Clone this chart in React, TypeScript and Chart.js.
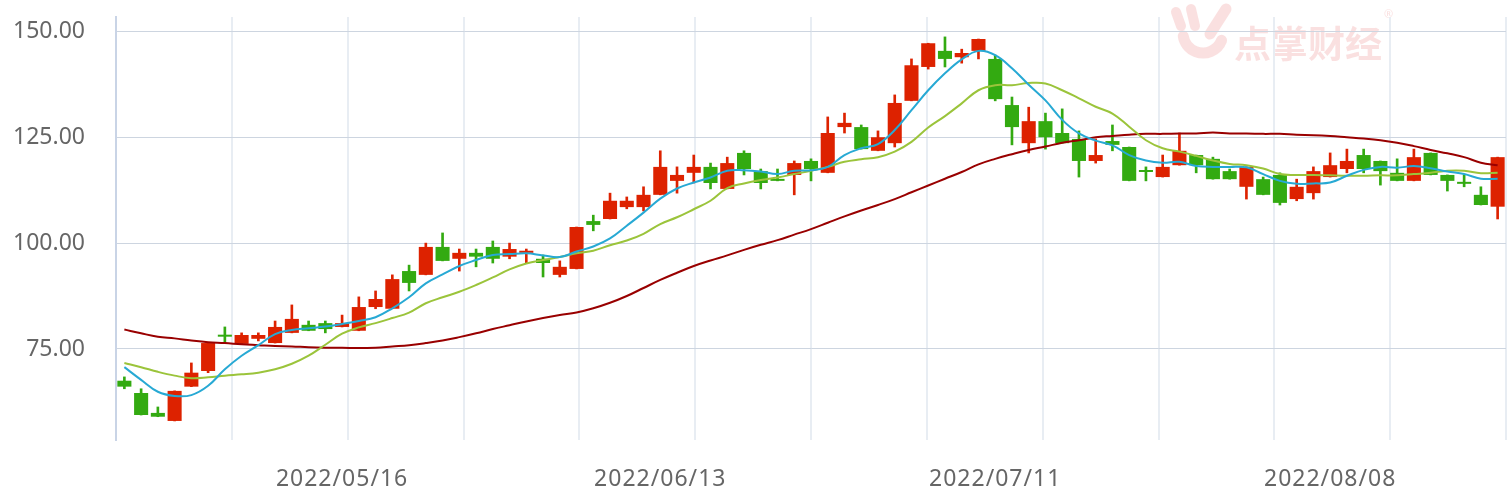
import React, { useEffect, useRef } from 'react';
import { Chart, registerables } from 'chart.js';

Chart.register(...registerables);

const dates = [
  '2022/04/22', '2022/04/25', '2022/04/26', '2022/04/27', '2022/04/28', '2022/04/29', '2022/05/05', '2022/05/06',
  '2022/05/09', '2022/05/10', '2022/05/11', '2022/05/12', '2022/05/13', '2022/05/16', '2022/05/17', '2022/05/18',
  '2022/05/19', '2022/05/20', '2022/05/23', '2022/05/24', '2022/05/25', '2022/05/26', '2022/05/27', '2022/05/30',
  '2022/05/31', '2022/06/01', '2022/06/02', '2022/06/06', '2022/06/07', '2022/06/08', '2022/06/09', '2022/06/10',
  '2022/06/13', '2022/06/14', '2022/06/15', '2022/06/16', '2022/06/17', '2022/06/20', '2022/06/21', '2022/06/22',
  '2022/06/23', '2022/06/24', '2022/06/27', '2022/06/28', '2022/06/29', '2022/06/30', '2022/07/01', '2022/07/04',
  '2022/07/05', '2022/07/06', '2022/07/07', '2022/07/08', '2022/07/11', '2022/07/12', '2022/07/13', '2022/07/14',
  '2022/07/15', '2022/07/18', '2022/07/19', '2022/07/20', '2022/07/21', '2022/07/22', '2022/07/25', '2022/07/26',
  '2022/07/27', '2022/07/28', '2022/07/29', '2022/08/01', '2022/08/02', '2022/08/03', '2022/08/04', '2022/08/05',
  '2022/08/08', '2022/08/09', '2022/08/10', '2022/08/11', '2022/08/12', '2022/08/15', '2022/08/16', '2022/08/17',
  '2022/08/18', '2022/08/19', '2022/08/22',
];

const shownDates = ['2022/05/16', '2022/06/13', '2022/07/11', '2022/08/08'];

const openValues = [
  67.5, 64.6, 59.9, 58.0, 66.1, 69.8, 78.2, 76.2, 77.4, 76.4, 78.8, 80.7, 81.1, 80.2, 79.3, 84.9,
  84.5, 93.4, 92.5, 99.1, 96.3, 97.7, 99.1, 96.8, 97.7, 96.3, 92.5, 93.9, 105.2, 105.7, 108.5, 108.5,
  111.4, 114.7, 116.6, 118.0, 112.8, 121.3, 117.0, 115.1, 116.1, 119.4, 116.6, 127.4, 127.4, 121.8, 123.6, 133.6,
  141.6, 145.4, 143.9, 145.4, 143.5, 132.6, 123.6, 128.8, 126.0, 124.6, 119.4, 124.1, 122.7, 117.1, 115.6, 118.4,
  120.8, 119.9, 117.0, 113.3, 115.1, 116.1, 110.4, 111.8, 115.6, 117.5, 120.8, 119.4, 116.6, 114.7, 121.3, 116.1,
  114.4, 111.4, 108.6,
];
const highValues = [
  68.4, 65.6, 61.3, 65.1, 71.7, 76.4, 80.2, 78.8, 78.8, 81.6, 85.4, 81.6, 81.6, 83.0, 87.3, 88.7,
  92.5, 94.8, 100.0, 102.4, 98.6, 98.6, 100.5, 100.0, 98.6, 97.2, 95.8, 103.8, 106.6, 111.8, 110.9, 113.3,
  121.8, 118.0, 120.8, 118.9, 120.3, 121.8, 117.5, 117.5, 119.4, 119.9, 129.8, 130.7, 127.9, 126.5, 135.0, 143.5,
  147.2, 148.7, 145.8, 148.2, 144.4, 134.5, 132.1, 130.7, 131.7, 126.5, 124.6, 127.9, 122.7, 118.0, 120.8, 126.0,
  120.8, 120.3, 117.5, 118.0, 115.6, 116.6, 115.1, 118.0, 121.3, 122.2, 122.2, 119.4, 119.9, 122.2, 121.3, 116.1,
  116.1, 113.3, 120.3,
];
const lowValues = [
  65.6, 59.4, 59.0, 58.0, 66.1, 69.4, 76.4, 76.2, 76.9, 76.4, 78.8, 79.3, 78.8, 80.2, 79.3, 84.5,
  84.5, 88.7, 92.5, 95.8, 93.4, 94.4, 95.3, 96.3, 95.3, 92.0, 92.0, 93.9, 102.9, 105.7, 108.1, 107.6,
  111.4, 111.8, 114.2, 112.8, 112.8, 116.1, 112.8, 114.7, 111.4, 114.7, 116.6, 126.0, 122.2, 121.8, 122.7, 133.6,
  141.1, 141.6, 142.5, 143.5, 133.6, 123.2, 121.3, 122.2, 123.6, 115.6, 118.9, 121.8, 114.7, 114.7, 115.6, 118.4,
  116.6, 115.1, 115.1, 110.4, 111.4, 109.0, 110.0, 110.4, 115.6, 116.6, 116.6, 113.7, 114.7, 114.7, 116.1, 112.3,
  113.3, 109.0, 105.7,
];
const closeValues = [
  66.1, 59.4, 59.0, 65.1, 69.4, 76.4, 77.9, 78.3, 78.3, 80.2, 82.1, 79.3, 79.7, 81.1, 84.9, 86.8,
  91.5, 90.6, 99.1, 95.8, 97.7, 96.8, 96.3, 98.6, 98.2, 95.3, 94.4, 103.8, 104.3, 110.0, 110.0, 111.4,
  118.0, 116.1, 118.0, 114.2, 118.9, 117.5, 114.2, 114.7, 118.9, 117.5, 126.0, 128.4, 122.2, 125.0, 133.1, 142.0,
  147.2, 143.5, 144.9, 148.2, 134.0, 127.4, 128.8, 125.0, 123.6, 119.4, 120.8, 123.2, 114.7, 116.8, 118.0, 121.8,
  118.4, 115.1, 115.1, 118.0, 111.4, 109.5, 113.3, 117.0, 118.4, 119.4, 117.5, 117.0, 114.7, 120.3, 116.1, 114.7,
  114.0, 109.0, 120.3,
];

const ma5Values = [
  70.7, 67.7, 64.9, 63.9, 64.1, 66.3, 70.2, 73.4, 75.9, 78.5, 79.5, 79.9, 80.3, 80.9, 81.6, 82.5,
  84.6, 87.2, 90.5, 92.6, 94.6, 96.0, 97.2, 97.4, 97.6, 97.1, 96.7, 98.0, 99.2, 101.1, 104.1, 107.2,
  110.5, 112.9, 114.3, 115.5, 117.1, 117.2, 116.9, 116.3, 117.1, 117.2, 118.0, 120.8, 122.4, 123.4, 126.7, 131.4,
  136.1, 140.1, 143.4, 145.4, 144.4, 141.3, 137.4, 133.7, 129.1, 125.9, 124.2, 123.1, 120.8, 119.5, 119.0, 119.2,
  118.2, 118.0, 118.0, 117.9, 116.3, 114.7, 114.0, 114.1, 114.3, 115.9, 117.3, 118.0, 117.8, 118.2, 117.7, 116.9,
  116.3, 115.2, 115.2,
];
const ma10Values = [
  71.7, 70.7, 69.6, 68.7, 68.1, 68.3, 68.7, 69.0, 69.4, 70.2, 71.5, 73.4, 76.0, 78.6, 80.1, 81.1,
  82.3, 83.6, 85.8, 87.2, 88.5, 90.1, 91.9, 93.8, 95.2, 96.0, 96.7, 97.6, 98.2, 99.5, 100.6, 102.2,
  104.5, 106.1, 108.0, 110.0, 113.0, 114.1, 114.9, 115.5, 116.3, 117.1, 118.0, 119.2, 119.8, 120.3, 121.6, 123.9,
  127.3, 130.0, 133.0, 136.1, 137.3, 137.3, 137.8, 137.7, 136.1, 134.2, 132.2, 130.6, 127.5, 124.3, 122.4, 121.6,
  120.6, 119.5, 118.7, 118.4, 117.6, 116.3, 116.1, 116.1, 116.0, 115.9, 115.9, 116.0, 116.0, 116.3, 116.6, 117.1,
  117.1, 116.5, 116.6,
];
const ma20Values = [
  79.6, 78.7, 77.9, 77.5, 77.0, 76.6, 76.4, 76.1, 75.9, 75.7, 75.6, 75.4, 75.3, 75.3, 75.2, 75.3,
  75.6, 75.9, 76.4, 77.0, 77.8, 78.7, 79.7, 80.6, 81.5, 82.3, 83.0, 83.6, 84.6, 85.9, 87.5, 89.4,
  91.3, 93.0, 94.6, 95.9, 97.1, 98.4, 99.6, 100.7, 102.0, 103.3, 104.8, 106.3, 107.7, 109.0, 110.4, 112.0,
  113.6, 115.2, 116.8, 118.6, 119.9, 121.0, 122.0, 122.8, 123.7, 124.3, 125.0, 125.3, 125.6, 125.8, 125.8, 125.9,
  125.9, 126.1, 125.9, 125.9, 125.8, 125.8, 125.6, 125.5, 125.3, 125.0, 124.7, 124.3, 123.7, 122.9, 122.0, 121.2,
  120.3, 119.0, 118.4,
];

const yTickValues = [75, 100, 125, 150];
const gridSteps = [0, 1, 2, 3, 4, 5, 6, 7, 8, 9, 10, 11, 12];

const UP_COLOR = '#dd2200';
const DOWN_COLOR = '#33aa11';
const FONT = '"Noto Sans", "Open Sans", sans-serif';

const watermarkPlugin = {
  id: 'watermark',
  beforeDraw(chart: any) {
    const c = chart.ctx as CanvasRenderingContext2D;
    (c as any).letterSpacing = '0px';
    c.save();
    const pink = 'rgba(232, 112, 112, 0.22)';
    c.fillStyle = pink;
    c.strokeStyle = pink;
    c.lineCap = 'round';
    c.lineWidth = 10;
    c.beginPath(); c.moveTo(1176, 12); c.lineTo(1181, 26); c.stroke();
    c.beginPath(); c.moveTo(1191, 9); c.lineTo(1195, 26); c.stroke();
    c.lineWidth = 11;
    c.beginPath(); c.moveTo(1226, 9); c.lineTo(1210, 34); c.stroke();
    c.beginPath(); c.arc(1203, 33, 20, 0.12 * Math.PI, 0.95 * Math.PI); c.stroke();
    c.font = `bold 37px "Noto Sans CJK SC", sans-serif`;
    c.textBaseline = 'middle';
    c.textAlign = 'left';
    c.fillText('点掌财经', 1234, 44);
    c.font = `11px ${FONT}`;
    c.fillText('®', 1384, 15);
    c.restore();
  },
  afterDatasetsDraw(chart: any) {
    // x-axis labels (z > 0) are drawn after this hook: give them a wider letter spacing
    (chart.ctx as any).letterSpacing = '1px';
  },
  afterDraw(chart: any) {
    (chart.ctx as any).letterSpacing = '0px';
  },
};

export default function App() {
  const canvasRef = useRef<HTMLCanvasElement | null>(null);

  useEffect(() => {
    document.body.style.margin = '0';
    const canvas = canvasRef.current;
    if (!canvas) return;
    const colors = closeValues.map((c, i) => (c >= openValues[i] ? UP_COLOR : DOWN_COLOR));
    const bodies = dates.map((_, i) => [
      Math.min(openValues[i], closeValues[i]),
      Math.max(openValues[i], closeValues[i]),
    ]);
    const wicks = dates.map((_, i) => [lowValues[i], highValues[i]]);

    const chart = new Chart(canvas, {
      data: {
        labels: dates,
        datasets: [
          {
            type: 'line', label: 'MA5', data: ma5Values, borderColor: '#27a9d4', borderWidth: 2,
            pointRadius: 0, tension: 0.4, fill: false, order: 0,
          },
          {
            type: 'line', label: 'MA10', data: ma10Values, borderColor: '#9bc43b', borderWidth: 2,
            pointRadius: 0, tension: 0.4, fill: false, order: 0,
          },
          {
            type: 'line', label: 'MA20', data: ma20Values, borderColor: '#990000', borderWidth: 2,
            pointRadius: 0, tension: 0.4, fill: false, order: 0,
          },
          {
            type: 'bar', label: 'K', data: bodies as any, backgroundColor: colors, borderWidth: 0,
            barPercentage: 0.84, categoryPercentage: 1, grouped: false, minBarLength: 2, order: 1,
          },
          {
            type: 'bar', label: 'HL', data: wicks as any, backgroundColor: colors, borderWidth: 0,
            barThickness: 2, grouped: false, order: 2,
          },
        ],
      } as any,
      options: {
        responsive: false,
        animation: false,
        devicePixelRatio: 1,
        layout: { padding: { top: 17, right: 2, left: 0, bottom: 0 }, autoPadding: false },
        plugins: { legend: { display: false }, tooltip: { enabled: false } },
        scales: {
          x: {
            type: 'category',
            position: 'bottom',
            offset: true,
            grid: { display: false, drawTicks: false },
            border: { display: false },
            ticks: {
              z: 1,
              autoSkip: false, maxRotation: 0, minRotation: 0, padding: 26, color: '#666',
              font: { family: FONT, size: 23 },
              callback: (_v: any, i: number) => (shownDates.includes(dates[i]) ? dates[i] : ''),
            },
            afterFit: (s: any) => { s.height = 57; s.paddingLeft = 0; s.paddingRight = 0; },
          },
          xg: {
            type: 'linear',
            position: 'bottom',
            min: 0,
            max: 12,
            afterBuildTicks: (s: any) => { s.ticks = gridSteps.map((v) => ({ value: v })); },
            ticks: { display: false },
            grid: { color: '#e8edf3', lineWidth: 2, drawTicks: false },
            border: { display: false },
            afterFit: (s: any) => { s.height = 0; s.paddingLeft = 0; s.paddingRight = 0; },
          },
          y: {
            type: 'linear',
            position: 'left',
            min: 53.5,
            max: 153.4,
            afterBuildTicks: (s: any) => { s.ticks = yTickValues.map((v) => ({ value: v })); },
            ticks: {
              padding: 31, color: '#666', font: { family: FONT, size: 23 },
              callback: (v: any) => Number(v).toFixed(2),
            },
            grid: { color: '#cdd5e0', lineWidth: 1, drawTicks: false },
            border: { display: true, color: '#c9d4e6', width: 2 },
            afterFit: (s: any) => { s.width = 116; s.paddingTop = 0; s.paddingBottom = 0; },
          },
        },
      } as any,
      plugins: [watermarkPlugin],
    });
    return () => chart.destroy();
  }, []);

  return (
    <div style={{ width: 1508, height: 497, position: 'relative', background: '#fff' }}>
      <canvas ref={canvasRef} width={1508} height={497} style={{ display: 'block', width: 1508, height: 497 }} />
    </div>
  );
}
